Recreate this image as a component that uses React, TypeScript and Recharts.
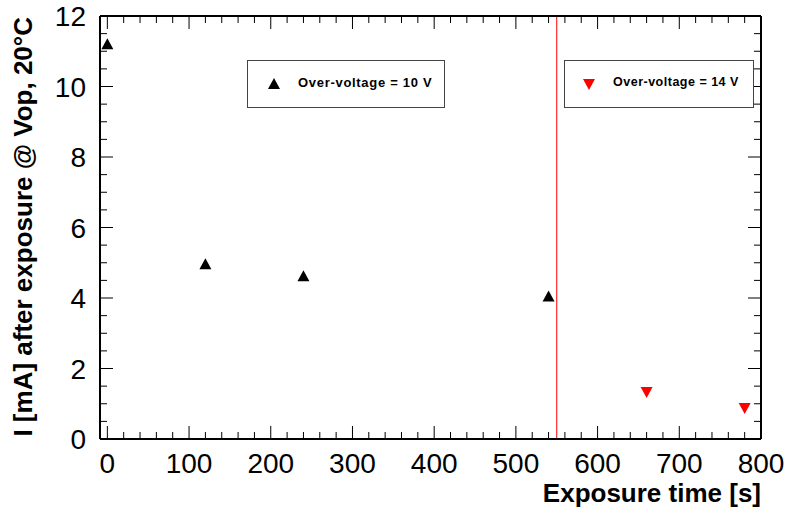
import { ScatterChart, Scatter, XAxis, YAxis, ReferenceLine, Legend, Label } from 'recharts';

const FONT = '"Liberation Sans", Arial, Helvetica, sans-serif';

// exposure time [s] and current [mA]
const timesLow = [0, 120, 240, 540];
const currentLow = [11.2, 4.96, 4.62, 4.04];
const timesHigh = [660, 780];
const currentHigh = [1.33, 0.88];

const xTicks = Array.from({ length: 41 }, (_, i) => i * 20);
const yTicks = Array.from({ length: 25 }, (_, i) => i * 0.5);
const cutTime = 550;

const lowData = timesLow.map((t, i) => ({ t, I: currentLow[i] }));
const highData = timesHigh.map((t, i) => ({ t, I: currentHigh[i] }));

const UpTriangle = (p: any) => (
  <polygon points={`${p.cx},${p.cy - 6} ${p.cx - 6},${p.cy + 5} ${p.cx + 6},${p.cy + 5}`} fill="#000" />
);
const DownTriangle = (p: any) => (
  <polygon points={`${p.cx - 6},${p.cy - 5} ${p.cx + 6},${p.cy - 5} ${p.cx},${p.cy + 6}`} fill="#ff0000" />
);

const BottomTick = ({ x, y, payload }: any) => {
  const major = payload.value % 100 === 0;
  return (
    <g>
      <line x1={x} x2={x} y1={y} y2={y - (major ? 13 : 7)} stroke="#000" />
      {major && (
        <text x={x} y={y + 34} textAnchor="middle" fontSize={28} fontFamily={FONT} fill="#000">
          {payload.value}
        </text>
      )}
    </g>
  );
};
const TopTick = ({ x, y, payload }: any) => (
  <line x1={x} x2={x} y1={y} y2={y + (payload.value % 100 === 0 ? 13 : 7)} stroke="#000" />
);
const LeftTick = ({ x, y, payload }: any) => {
  const major = payload.value % 2 === 0;
  return (
    <g>
      <line x1={x} x2={x + (major ? 13 : 7)} y1={y} y2={y} stroke="#000" />
      {major && (
        <text x={x - 14} y={y + 10} textAnchor="end" fontSize={28} fontFamily={FONT} fill="#000">
          {payload.value}
        </text>
      )}
    </g>
  );
};
const RightTick = ({ x, y, payload }: any) => (
  <line x1={x} x2={x - (payload.value % 2 === 0 ? 13 : 7)} y1={y} y2={y} stroke="#000" />
);

const boxes = [
  { left: 247, width: 198, mark: 26, text: 50, size: 13, ls: 0.7 },
  { left: 564, width: 190, mark: 24, text: 48, size: 12.5, ls: 0.5 },
];

const LegendBoxes = ({ payload }: any) => (
  <div>
    {(payload || []).map((item: any, i: number) => {
      const b = boxes[i];
      return (
        <div
          key={i}
          style={{
            position: 'absolute',
            left: b.left,
            top: 60,
            width: b.width,
            height: 48,
            boxSizing: 'border-box',
            border: '1px solid #444',
            background: '#fff',
          }}
        >
          <svg width={14} height={14} style={{ position: 'absolute', left: b.mark - 7, top: 16 }}>
            {i === 0 ? <UpTriangle cx={7} cy={7} /> : <DownTriangle cx={7} cy={7} />}
          </svg>
          <span
            style={{
              position: 'absolute',
              left: b.text,
              top: 14,
              fontFamily: FONT,
              fontWeight: 'bold',
              fontSize: b.size,
              letterSpacing: b.ls,
              whiteSpace: 'nowrap',
              color: '#000',
            }}
          >
            {item.value}
          </span>
        </div>
      );
    })}
  </div>
);

export default function App() {
  return (
    <div style={{ position: 'absolute', left: 0, top: 0, width: 790, height: 514, background: '#fff', fontFamily: FONT }}>
      <ScatterChart width={790} height={514} margin={{ top: 6, right: 19, bottom: 35, left: 40 }}>
        <XAxis
          xAxisId="b"
          dataKey="t"
          type="number"
          domain={[-9, 800]}
          allowDataOverflow
          ticks={xTicks}
          interval={0}
          tickSize={0}
          tickMargin={0}
          tickLine={false}
          tick={BottomTick}
          height={40}
          axisLine={{ stroke: '#000', strokeWidth: 2 }}
        >
          <Label
            content={({ viewBox }: any) => (
              <text
                x={viewBox.x + viewBox.width}
                y={viewBox.y + 63}
                textAnchor="end"
                fontSize={26}
                fontWeight="bold"
                fontFamily={FONT}
                fill="#000"
              >
                Exposure time [s]
              </text>
            )}
          />
        </XAxis>
        <XAxis
          xAxisId="t"
          orientation="top"
          dataKey="t"
          type="number"
          domain={[-9, 800]}
          allowDataOverflow
          ticks={xTicks}
          interval={0}
          tickSize={0}
          tickMargin={0}
          tickLine={false}
          tick={TopTick}
          height={10}
          axisLine={{ stroke: '#000', strokeWidth: 2 }}
        />
        <YAxis
          yAxisId="l"
          dataKey="I"
          type="number"
          domain={[0, 12]}
          allowDataOverflow
          ticks={yTicks}
          interval={0}
          tickSize={0}
          tickMargin={0}
          tickLine={false}
          tick={LeftTick}
          width={60}
          axisLine={{ stroke: '#000', strokeWidth: 2 }}
        >
          <Label
            content={({ viewBox }: any) => {
              const x = 32;
              const y = viewBox.y + 1;
              return (
                <text
                  x={x}
                  y={y}
                  transform={`rotate(-90, ${x}, ${y})`}
                  textAnchor="end"
                  fontSize={26}
                  fontWeight="bold"
                  fontFamily={FONT}
                  fill="#000"
                >
                  I [mA] after exposure @ Vop, 20°C
                </text>
              );
            }}
          />
        </YAxis>
        <YAxis
          yAxisId="r"
          orientation="right"
          dataKey="I"
          type="number"
          domain={[0, 12]}
          allowDataOverflow
          ticks={yTicks}
          interval={0}
          tickSize={0}
          tickMargin={0}
          tickLine={false}
          tick={RightTick}
          width={10}
          axisLine={{ stroke: '#000', strokeWidth: 2 }}
        />
        <ReferenceLine xAxisId="b" yAxisId="l" x={cutTime} stroke="#ff0000" strokeWidth={1} />
        <Scatter
          name="Over-voltage = 10 V"
          data={lowData}
          xAxisId="b"
          yAxisId="l"
          fill="#000"
          shape={UpTriangle}
          isAnimationActive={false}
        />
        <Scatter
          name="Over-voltage = 14 V"
          data={highData}
          xAxisId="b"
          yAxisId="l"
          fill="#ff0000"
          shape={DownTriangle}
          isAnimationActive={false}
        />
        <Legend
          layout="horizontal"
          verticalAlign="middle"
          align="center"
          wrapperStyle={{ left: 0, top: 0, width: 790, height: 514, pointerEvents: 'none' }}
          content={LegendBoxes}
        />
      </ScatterChart>
    </div>
  );
}
